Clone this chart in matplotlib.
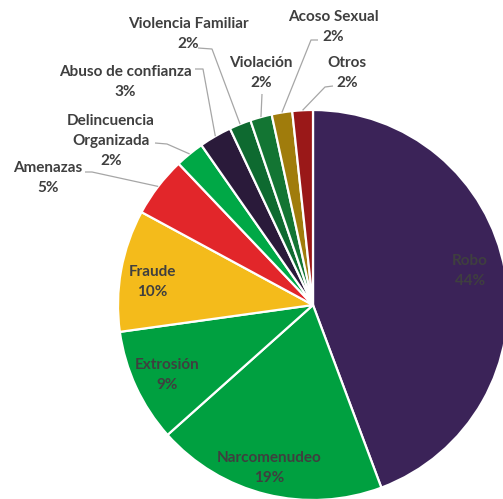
import matplotlib
matplotlib.use("Agg")
import numpy as np
import matplotlib.pyplot as plt

# shares (labels show them rounded)
categories = ["Robo", "Narcomenudeo", "Extrosión", "Fraude", "Amenazas",
              "Delincuencia\nOrganizada", "Abuso de confianza", "Violencia Familiar",
              "Violación", "Acoso Sexual", "Otros"]
shares = [44.3, 19.1, 9.4, 10.1, 5.0, 2.4, 2.7, 1.8, 1.8, 1.7, 1.7]
colors = ["#3b2358", "#00a040", "#00a040", "#f4bb1b", "#e2262a", "#00a846",
          "#2a1a3a", "#0e6a30", "#137533", "#a07c0c", "#9a1818"]

# label centre in pixels (x, y from top); leader start + elbow for outside labels
label_px = [(470, 271), (269, 468), (167, 375), (152, 282), (48, 178),
            (111, 141), (125, 82), (188, 34), (261, 73), (333, 27), (347, 73)]
leader_px = [None, None, None, None,
             [(85, 172), (92, 172)],
             [(155, 143), (167, 144)],
             [(195, 69), (203, 69)],
             [(198, 48), (212, 49)],
             [(262, 94), (262, 94)],
             [(318, 40), (311, 40)],
             [(333, 86), (325, 87)]]

W, H = 503, 499
CX, CY, R = 313, 305, 195


def to_data(p):
    return ((p[0] - CX) / R, (CY - p[1]) / R)


def main():
    plt.rcParams["font.family"] = ["Lato", "DejaVu Sans"]
    fig = plt.figure(figsize=(W / 100, H / 100), dpi=100)
    ax = fig.add_axes([0, 0, 1, 1])

    wedges, _ = ax.pie(shares, colors=colors, startangle=90, counterclock=False,
                       radius=1, wedgeprops=dict(edgecolor="white", linewidth=1.6))
    ax.set_xlim(-CX / R, (W - CX) / R)
    ax.set_ylim(-(H - CY) / R, CY / R)
    ax.set_aspect("auto")
    ax.axis("off")

    for i, (name, val) in enumerate(zip(categories, shares)):
        x, y = to_data(label_px[i])
        ax.text(x, y, f"{name}\n{val:.0f}%", ha="center", va="center",
                fontsize=11, fontweight="bold", color="#3f3f3f", linespacing=1.55)
        if leader_px[i] is not None:
            w = wedges[i]
            mid = np.deg2rad((w.theta1 + w.theta2) / 2)
            end = (np.cos(mid), np.sin(mid))
            p0 = to_data(leader_px[i][0])
            p1 = to_data(leader_px[i][1])
            ax.plot([p0[0], p1[0], end[0]], [p0[1], p1[1], end[1]],
                    color="#a6a6a6", lw=0.9, solid_capstyle="butt")

    fig.savefig("out.png", dpi=100)


if __name__ == "__main__":
    main()
